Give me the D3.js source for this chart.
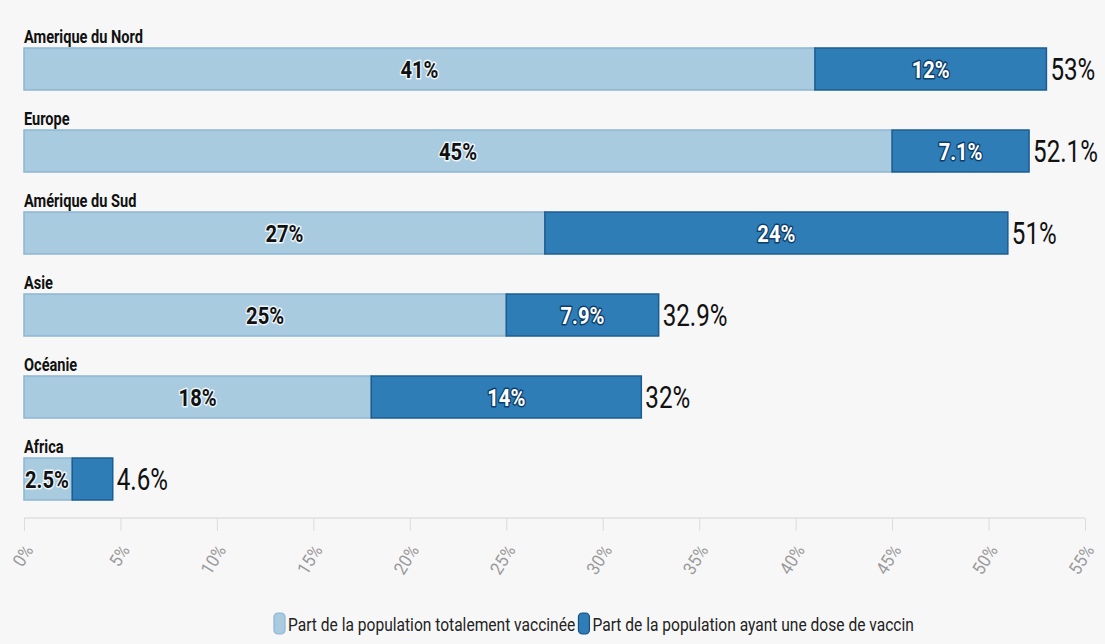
<!DOCTYPE html>
<html>
<head>
<meta charset="utf-8">
<script src="https://cdn.jsdelivr.net/npm/d3@7"></script>
<style>
  html, body { margin: 0; padding: 0; background: #f7f7f7; }
  svg { display: block; }
</style>
</head>
<body>
<svg id="chart" width="1105" height="644"></svg>
<script>
// Regions and their vaccination shares (%)
const regions = ["Amerique du Nord", "Europe", "Amérique du Sud", "Asie", "Océanie", "Africa"];
const fullyVaccinated = [41, 45, 27, 25, 18, 2.5];
const oneDose = [12, 7.1, 24, 7.9, 14, 2.1];
const totals = [53, 52.1, 51, 32.9, 32, 4.6];
const tickValues = [0, 5, 10, 15, 20, 25, 30, 35, 40, 45, 50, 55];
const seriesNames = ["Part de la population totalement vaccinée", "Part de la population ayant une dose de vaccin"];

const W = 1105, H = 644;
const lightFill = "#a9cbe0", lightStroke = "#8db6d2";
const darkFill = "#2f7db6", darkStroke = "#1b5d92";
const fontFam = 'Roboto, "Noto Sans", sans-serif';

// narrow the text horizontally around its anchor point (condensed look)
function condense(sel, f, extra = "") {
  sel.each(function () {
    const t = d3.select(this);
    const px = +t.attr("x") || 0, py = +t.attr("y") || 0;
    t.attr("x", 0).attr("y", 0)
      .attr("transform", `translate(${px},${py}) ${extra} scale(${f},1)`);
  });
}

const svg = d3.select("#chart");
svg.append("rect").attr("width", W).attr("height", H).attr("fill", "#f7f7f7");

const x = d3.scaleLinear().domain([0, 55]).range([24, 1085]);
const y = d3.scaleBand().domain(regions).range([48, 500]).paddingInner(0.488).paddingOuter(0);
const bh = y.bandwidth();

const rows = regions.map((r, i) => ({ r, a: fullyVaccinated[i], b: oneDose[i], t: totals[i] }));

// x axis
const axisY = 518;
const axis = d3.axisBottom(x).tickValues(tickValues).tickFormat(d => d + "%").tickSize(13).tickPadding(4);
const ax = svg.append("g").attr("transform", `translate(0,${axisY})`).call(axis);
ax.select(".domain").attr("stroke", "#e0e0e0").attr("stroke-width", 1.5).attr("d", `M${x(0)},0H${x(55)}`);
ax.selectAll(".tick line").attr("stroke", "#dcdcdc");
ax.selectAll(".tick text")
  .attr("fill", "#9a9a9a")
  .style("font-family", fontFam)
  .style("font-size", "18px")
  .attr("text-anchor", "end")
  .attr("dy", "0.35em").attr("x", 4).attr("y", 28.5)
  .call(condense, 0.92, "rotate(-58)");

const g = svg.append("g");
const row = g.selectAll("g.row").data(rows).join("g").attr("class", "row")
  .attr("transform", d => `translate(0,${y(d.r)})`);

// region names above each bar
row.append("text")
  .attr("x", x(0)).attr("y", -5)
  .style("font-family", fontFam).style("font-weight", "bold").style("font-size", "18px")
  .attr("fill", "#111")
  .text(d => d.r)
  .call(condense, 0.81);

// fully vaccinated segment
row.append("rect")
  .attr("x", x(0)).attr("y", 0)
  .attr("width", d => x(d.a) - x(0)).attr("height", bh)
  .attr("fill", lightFill).attr("stroke", lightStroke).attr("stroke-width", 1.5);

// one dose segment
row.append("rect")
  .attr("x", d => x(d.a)).attr("y", 0)
  .attr("width", d => x(d.a + d.b) - x(d.a)).attr("height", bh)
  .attr("fill", darkFill).attr("stroke", darkStroke).attr("stroke-width", 1.5);

// label inside light segment
row.append("text")
  .attr("x", d => d.a < 5 ? x(0) + 1 : (x(0) + x(d.a)) / 2)
  .attr("y", bh / 2).attr("dy", "0.36em")
  .attr("text-anchor", d => d.a < 5 ? "start" : "middle")
  .style("font-family", fontFam).style("font-weight", "bold").style("font-size", "24px")
  .attr("fill", "#111").attr("stroke", "#eef6fb").attr("stroke-width", 3).attr("paint-order", "stroke")
  .attr("stroke-linejoin", "round")
  .text(d => d.a + "%")
  .call(condense, 0.84);

// label inside dark segment (skipped when too narrow)
row.filter(d => d.b >= 4).append("text")
  .attr("x", d => (x(d.a) + x(d.a + d.b)) / 2)
  .attr("y", bh / 2).attr("dy", "0.36em")
  .attr("text-anchor", "middle")
  .style("font-family", fontFam).style("font-weight", "bold").style("font-size", "24px")
  .attr("fill", "#fff").attr("stroke", "#0d3e6b").attr("stroke-width", 3).attr("paint-order", "stroke")
  .attr("stroke-linejoin", "round")
  .text(d => d.b + "%")
  .call(condense, 0.84);

// totals
row.append("text")
  .attr("x", d => x(d.t) + 4)
  .attr("y", bh / 2).attr("dy", "0.36em")
  .style("font-family", fontFam).style("font-size", "31px")
  .attr("fill", "#111")
  .text(d => d.t + "%")
  .call(condense, 0.78);

// legend
const lg = svg.append("g").attr("transform", "translate(0,623)");
const items = [
  { name: seriesNames[0], fill: lightFill, stroke: lightStroke },
  { name: seriesNames[1], fill: darkFill, stroke: "#174f80" }
];
const legF = 0.82;
let cx = 274;
items.forEach(it => {
  lg.append("rect").attr("x", cx).attr("y", -10).attr("width", 11).attr("height", 21).attr("rx", 4)
    .attr("fill", it.fill).attr("stroke", it.stroke).attr("stroke-width", 1.2);
  const t = lg.append("text").attr("x", cx + 14).attr("y", 1).attr("dy", "0.35em")
    .style("font-family", fontFam).style("font-size", "19px").attr("fill", "#222").text(it.name);
  const len = t.node().getComputedTextLength() * legF;
  t.call(condense, legF);
  cx += 14 + len + 3;
});
</script>
</body>
</html>
